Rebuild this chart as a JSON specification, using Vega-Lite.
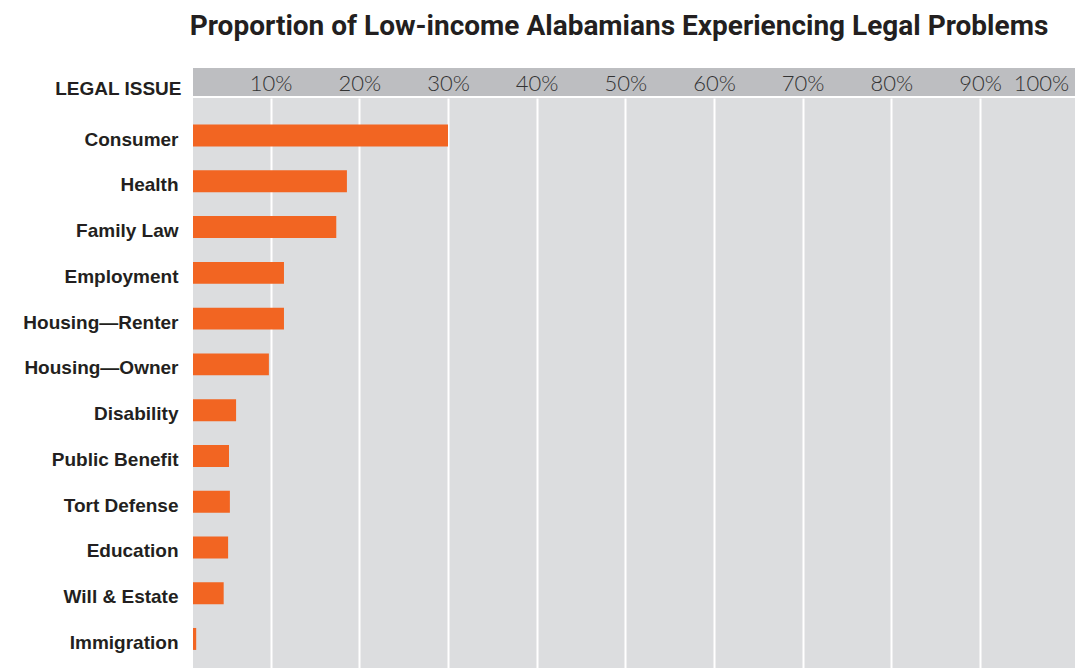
{
  "$schema": "https://vega.github.io/schema/vega-lite/v6.json",
  "padding": {"left": 0, "top": 13, "right": 0, "bottom": 0},
  "background": "white",
  "title": {
    "text": "Proportion of Low-income Alabamians Experiencing Legal Problems",
    "font": "Roboto",
    "fontSize": 28,
    "fontWeight": "bold",
    "color": "#231f20",
    "anchor": "middle",
    "frame": "group",
    "dx": -15,
    "offset": 27
  },
  "spacing": 0,
  "config": {
    "view": {"stroke": null},
    "concat": {"spacing": 0}
  },
  "vconcat": [
    {
      "width": 882,
      "height": 28,
      "view": {"fill": "#bdbec1", "stroke": null},
      "data": {"values": [{"issue": "LEGAL ISSUE"}]},
      "mark": {"type": "point", "opacity": 0},
      "encoding": {
        "x": {
          "datum": 50,
          "type": "quantitative",
          "scale": {"domain": [1.24, 100.72], "nice": false, "zero": false},
          "axis": {
            "orient": "top",
            "values": [10, 20, 30, 40, 50, 60, 70, 80, 90, 100],
            "labelExpr": "datum.value + '%'",
            "grid": false,
            "ticks": false,
            "domain": false,
            "labelPadding": -15,
            "labelBaseline": "middle",
            "labelFlush": 10,
            "labelFont": "Lato",
            "labelFontWeight": 300,
            "labelFontSize": 22,
            "labelColor": "#333333",
            "title": null
          }
        },
        "y": {
          "field": "issue",
          "type": "nominal",
          "axis": {
            "title": null,
            "ticks": false,
            "domain": false,
            "labelPadding": 12,
            "labelOffset": 6,
            "labelFont": "Liberation Sans",
            "labelFontWeight": "bold",
            "labelFontSize": 19,
            "labelColor": "#231f20",
            "minExtent": 193,
            "maxExtent": 193
          }
        }
      }
    },
    {
      "width": 882,
      "height": 572,
      "view": {"fill": "#dcdddf", "stroke": null},
      "data": {
        "values": [
          {"issue": "Consumer", "pct": 30.0},
          {"issue": "Health", "pct": 18.6},
          {"issue": "Family Law", "pct": 17.4},
          {"issue": "Employment", "pct": 11.5},
          {"issue": "Housing—Renter", "pct": 11.5},
          {"issue": "Housing—Owner", "pct": 9.8},
          {"issue": "Disability", "pct": 6.1},
          {"issue": "Public Benefit", "pct": 5.3},
          {"issue": "Tort Defense", "pct": 5.4},
          {"issue": "Education", "pct": 5.2},
          {"issue": "Will & Estate", "pct": 4.7},
          {"issue": "Immigration", "pct": 1.6}
        ]
      },
      "mark": {"type": "bar", "color": "#f26522", "clip": true},
      "encoding": {
        "x": {
          "field": "pct",
          "type": "quantitative",
          "scale": {"domain": [1.24, 100.72], "nice": false, "zero": false},
          "axis": {
            "orient": "bottom",
            "values": [10, 20, 30, 40, 50, 60, 70, 80, 90],
            "grid": true,
            "gridColor": "white",
            "gridWidth": 2,
            "gridOpacity": 1,
            "labels": false,
            "ticks": false,
            "domain": false,
            "title": null
          }
        },
        "y": {
          "field": "issue",
          "type": "nominal",
          "sort": null,
          "scale": {"paddingInner": 0.52, "paddingOuter": 0.51, "align": 0.57},
          "axis": {
            "title": null,
            "ticks": false,
            "domain": false,
            "labelPadding": 15,
            "labelOffset": 4,
            "labelFont": "Liberation Sans",
            "labelFontWeight": "bold",
            "labelFontSize": 19,
            "labelColor": "#231f20",
            "labelLimit": 300,
            "minExtent": 193,
            "maxExtent": 193
          }
        }
      }
    }
  ]
}
